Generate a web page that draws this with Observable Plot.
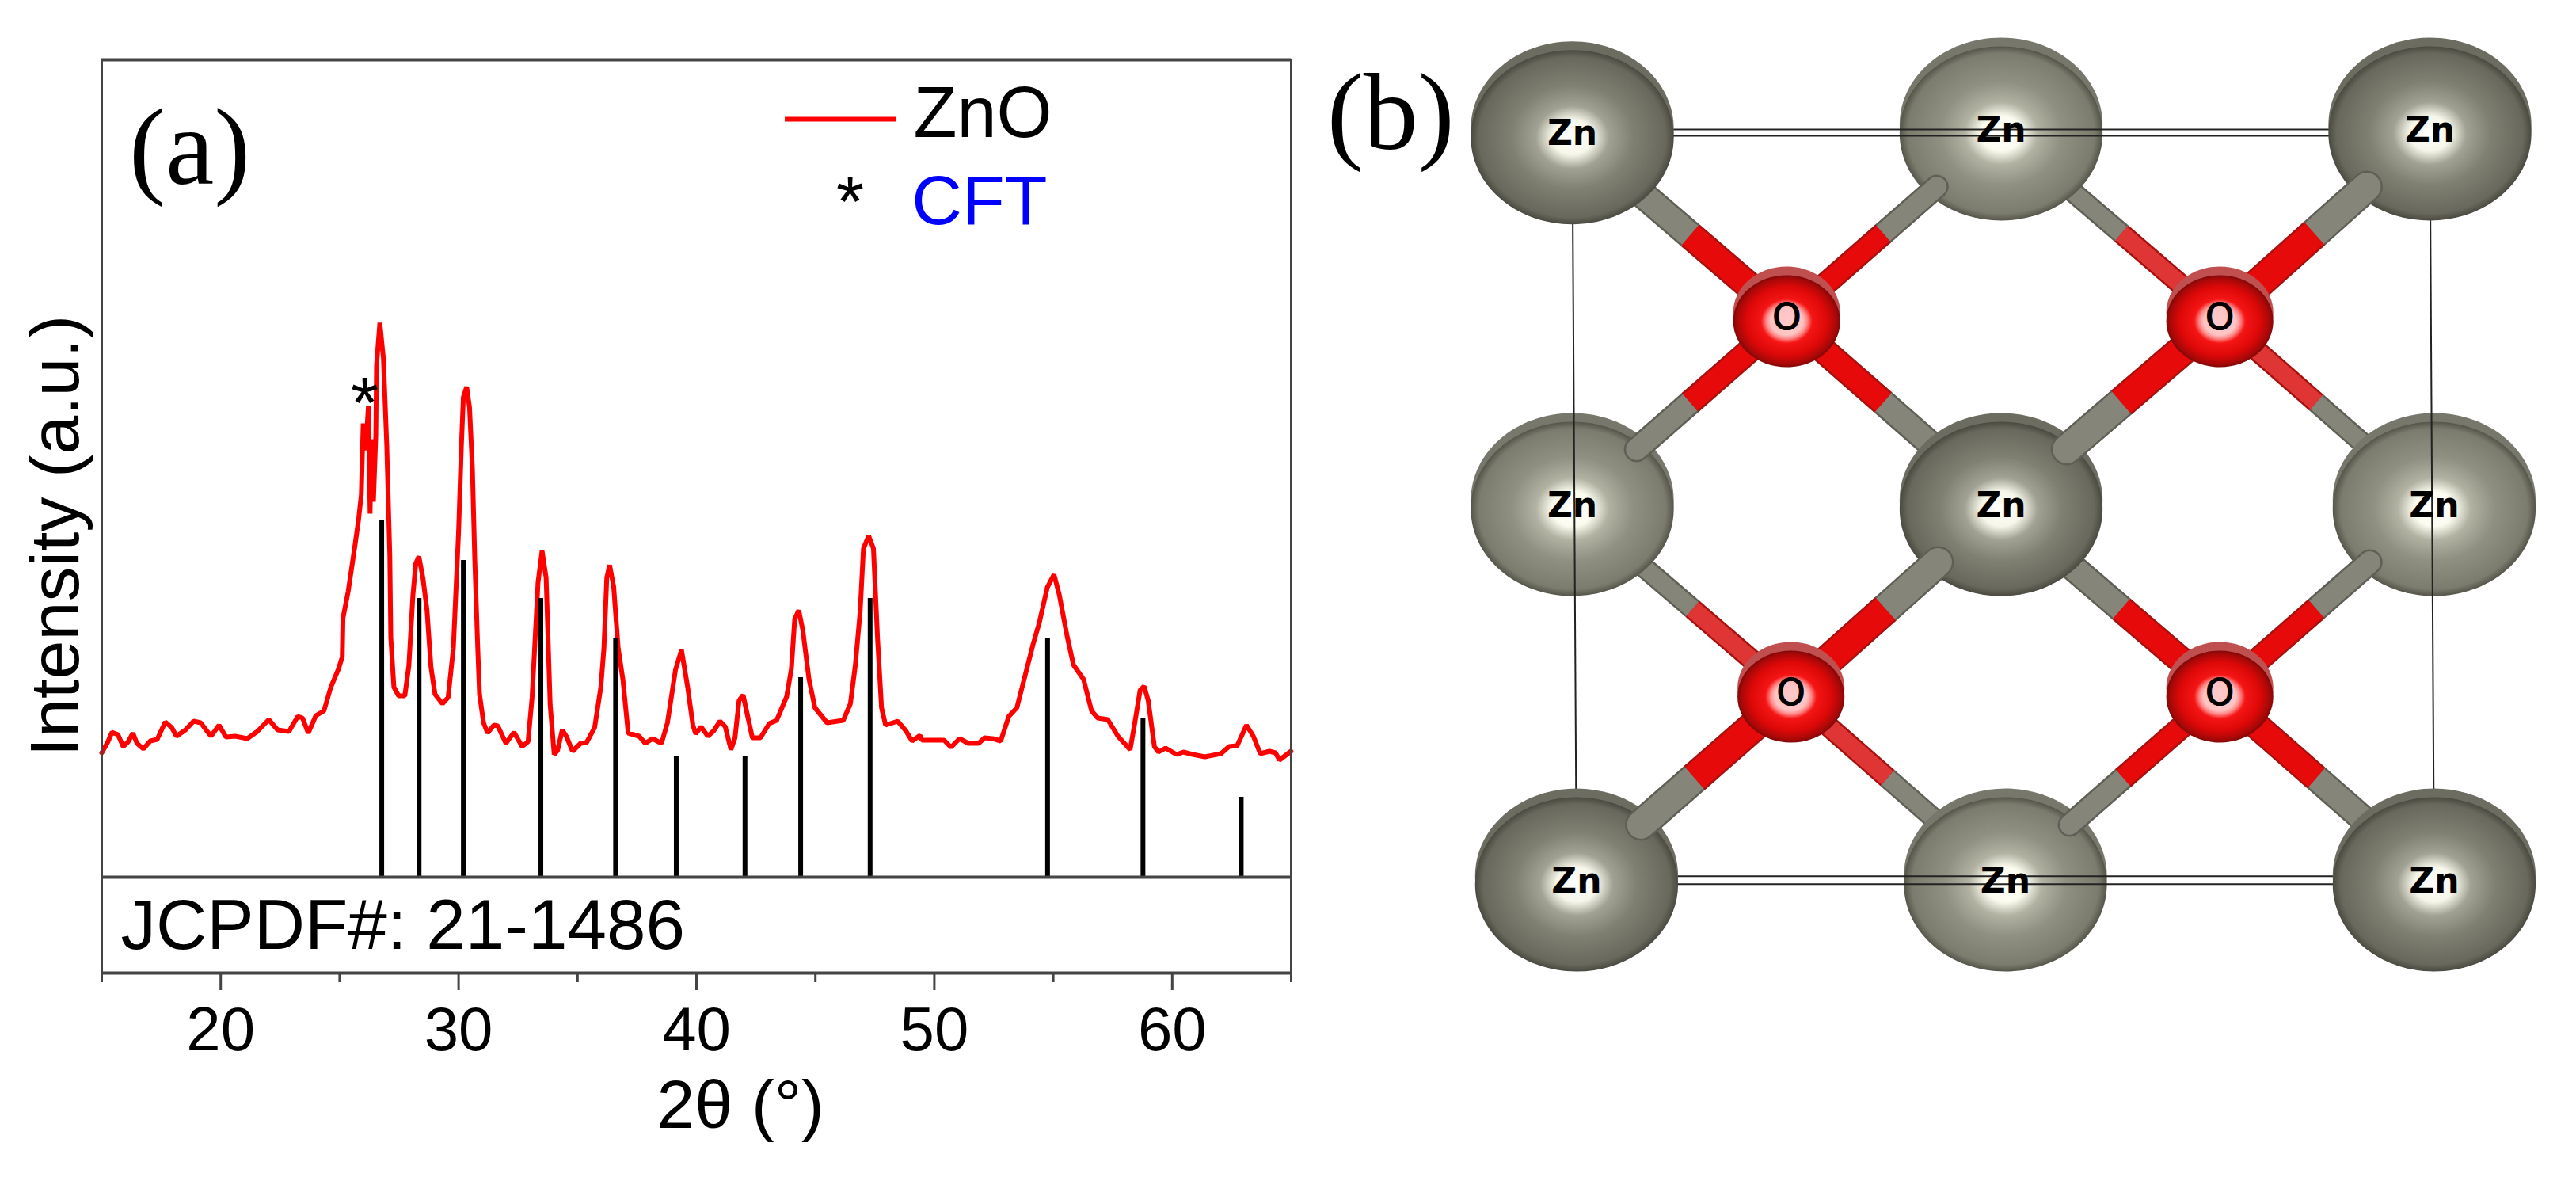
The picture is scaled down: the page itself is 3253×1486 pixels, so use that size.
<!DOCTYPE html>
<html><head><meta charset="utf-8">
<script src="https://cdn.jsdelivr.net/npm/d3@7"></script>
<script src="https://cdn.jsdelivr.net/npm/@observablehq/plot@0.6"></script>
<style>html,body{margin:0;background:#fff}#wrap{display:flex;width:3253px;height:1486px}svg{flex:none}</style>
</head><body><div id="wrap"></div>
<script>
const two_theta = [15.00,15.26,15.43,15.68,15.90,16.11,16.31,16.48,16.75,17.04,17.33,17.67,17.94,18.14,18.52,18.86,19.16,19.59,19.93,20.22,20.61,21.12,21.54,22.02,22.39,22.87,23.24,23.44,23.68,24.00,24.34,24.63,24.94,25.11,25.14,25.36,25.62,25.79,25.91,25.99,26.09,26.21,26.28,26.33,26.42,26.52,26.55,26.69,26.84,26.98,27.11,27.15,27.28,27.48,27.74,27.91,28.08,28.20,28.33,28.50,28.67,28.84,29.01,29.32,29.56,29.78,30.00,30.12,30.20,30.34,30.46,30.58,30.68,30.80,30.88,31.05,31.22,31.48,31.65,31.99,32.33,32.67,32.92,33.09,33.34,33.51,33.68,33.85,34.02,34.16,34.36,34.53,34.79,35.13,35.38,35.72,35.98,36.11,36.23,36.35,36.52,36.71,36.91,37.13,37.59,37.85,38.15,38.53,38.78,39.12,39.37,39.63,39.85,39.97,40.19,40.48,40.73,40.99,41.21,41.45,41.62,41.79,41.96,42.14,42.35,42.69,43.06,43.37,43.79,43.99,44.13,44.30,44.47,44.73,44.98,45.49,46.17,46.47,46.68,46.88,47.02,47.24,47.44,47.61,47.78,47.95,48.46,48.80,49.06,49.40,49.48,50.41,50.70,51.06,51.43,51.86,52.11,52.45,52.79,53.13,53.47,53.81,54.15,54.41,54.75,55.03,55.25,55.59,55.85,56.27,56.61,56.87,57.29,57.72,58.23,58.40,58.65,58.82,58.99,59.25,59.42,59.72,60.18,60.47,60.86,61.37,62.05,62.39,62.73,63.12,63.41,63.70,64.09,64.34,64.51,64.99];
const intensity = [15.7,17.1,18.3,18.0,16.5,17.1,18.2,16.9,16.2,17.2,17.4,19.6,18.9,17.8,18.6,19.7,19.5,17.8,19.2,17.7,17.8,17.5,18.4,19.9,18.6,18.4,20.3,20.1,18.2,20.4,21.0,24.0,26.2,27.8,32.7,36.1,41.4,45.0,48.3,57.3,53.9,59.5,45.9,55.3,47.4,55.7,64.6,70.0,65.5,54.6,40.5,30.3,24.0,22.9,22.9,26.7,35.6,39.6,40.5,37.8,33.8,26.5,23.1,21.9,22.7,28.9,43.6,54.6,60.6,61.9,59.3,51.7,40.1,29.4,23.1,19.5,18.2,19.2,19.1,16.9,18.3,16.5,17.1,22.7,37.2,41.2,37.8,21.8,15.5,16.0,18.6,17.8,15.9,16.9,17.0,18.9,24.0,28.9,37.8,39.4,36.7,28.9,24.9,18.2,17.8,16.9,17.5,16.9,19.5,26.2,28.7,24.0,19.2,18.1,19.0,17.8,18.5,19.7,19.0,16.1,17.6,22.3,23.0,20.5,17.6,17.6,19.4,19.8,22.8,26.3,32.6,33.7,31.2,25.0,21.4,19.5,19.8,21.9,26.8,33.5,41.5,43.1,41.5,30.3,21.4,19.2,19.7,18.5,17.2,17.9,17.3,17.3,16.4,17.5,16.9,16.9,17.6,17.5,17.2,20.3,21.4,25.4,29.4,32.1,36.6,38.2,35.7,30.3,26.8,25.0,21.0,20.1,19.9,17.8,16.1,19.0,23.6,24.1,22.3,16.5,15.8,16.3,15.5,15.8,15.5,15.2,15.6,16.5,16.6,19.2,17.8,15.6,15.9,15.7,14.8,15.9];
const stick_positions = [26.77,28.34,30.20,33.46,36.60,39.15,42.04,44.38,47.30,54.76,58.77,62.90];
const stick_heights = [45,35.2,40,35.2,30.2,15.2,15.2,25.2,35.2,30.1,20.1,10.1];
const major_ticks = [20,30,40,50,60];
const minor_ticks = [15,25,35,45,55,65];

// panel (b): fractional positions
const zn_light = [[1,2,"Zn"],[0,1,"Zn"],[2.01,1,"Zn"],[1.01,0,"Zn"]];
const zn_dark_inner = [[1,1,"Zn"]];
const zn_corners = [[0,1.99,"Zn"],[2,2,"Zn"],[0.01,0,"Zn"],[2.01,0,"Zn"]];
const oxygen = [[0.50,1.50,"O"],[1.51,1.50,"O"],[0.51,0.50,"O"],[1.51,0.50,"O"]];
// [O index, Zn x, Zn y, bond width]
const bonds_back = [[0,0,1.99,36],[0,1,1,34],[1,1,2,27],[1,2.01,1,27],[2,0,1,27],[2,1.01,0,27],[3,1,1,35],[3,2.01,0,35]];
const bonds_front = [[0,1,2,30],[0,0,1,32],[1,2,2,40],[1,1,1,40],[2,1,1,40],[2,0.01,0,40],[3,2.01,1,32],[3,1.01,0,30]];
const cell_edges = [[0,1.99,0.01,0],[2,2,2.01,0],[0,2.002,2,2.002],[0,1.985,2,1.985],[0.01,0.013,2.01,0.013],[0.01,-0.008,2.01,-0.008]];

const dark = "#444";
const sans = "Liberation Sans";
const chartA = Plot.plot({
  width:1650, height:1486, marginLeft:128, marginRight:20, marginTop:75, marginBottom:258,
  style:{fontFamily:sans, background:"#fff", color:"#000"},
  x:{domain:[15,65], label:null}, y:{domain:[-12.1,103.2], axis:null, label:null},
  marks:[
    Plot.lineY(intensity,{x:two_theta, stroke:"#f00", strokeWidth:6, strokeLinejoin:"miter"}),
    Plot.ruleX(stick_positions,{y1:0, y2:stick_heights, stroke:"#000", strokeWidth:6}),
    Plot.ruleY([103.2,0,-12.1],{stroke:dark, strokeWidth:4}),
    Plot.ruleX([15,65],{stroke:dark, strokeWidth:3}),
    Plot.axisX({ticks:major_ticks, tickSize:22, tickPadding:20, fontSize:78, strokeWidth:3, stroke:dark, label:null, fill:"#000"}),
    Plot.axisX({ticks:minor_ticks, tickSize:12, text:null, strokeWidth:3, stroke:dark, label:null}),
    Plot.text(["2θ (°)"],{x:[41.85], y:[-31.6], fontSize:86, lineAnchor:"bottom"}),
    Plot.text(["Intensity (a.u.)"],{x:[14.03], y:[43.1], fontSize:88, rotate:-90, lineAnchor:"bottom"}),
    Plot.text(["JCPDF#: 21-1486"],{x:[15.8], y:[-9], fontSize:89, textAnchor:"start", lineAnchor:"bottom"}),
    Plot.text(["(a)"],{x:[16.15], y:[87.6], fontSize:138, fontFamily:"Liberation Serif", textAnchor:"start", lineAnchor:"bottom"}),
    Plot.ruleY([95.7],{x1:43.73, x2:48.42, stroke:"#f00", strokeWidth:6}),
    Plot.text(["ZnO"],{x:[49.12], y:[93.5], fontSize:90, textAnchor:"start", lineAnchor:"bottom"}),
    Plot.text(["CFT"],{x:[49.05], y:[82.5], fontSize:88, fill:"#00f", textAnchor:"start", lineAnchor:"bottom"}),
    Plot.text(["*"],{x:[46.46], y:[82.2], fontSize:90, lineAnchor:"bottom"}),
    Plot.text(["*"],{x:[26.05], y:[56.8], fontSize:90, lineAnchor:"bottom"})
  ]
});

const kappa = 0.5523, squash = 1.165;
const ellipse = {draw(c,size){
  const ry = Math.sqrt(size/Math.PI), rx = ry*squash;
  c.moveTo(rx,0);
  c.bezierCurveTo(rx,kappa*ry,kappa*rx,ry,0,ry);
  c.bezierCurveTo(-kappa*rx,ry,-rx,kappa*ry,-rx,0);
  c.bezierCurveTo(-rx,-kappa*ry,-kappa*rx,-ry,0,-ry);
  c.bezierCurveTo(kappa*rx,-ry,rx,-kappa*ry,rx,0);
  c.closePath();
}};
const redShare = 0.45;
const bondParts = (list,zinc) => list.map(([o,zx,zy,w])=>{
  const [ox,oy]=oxygen[o];
  return {ox,oy,zx:ox+(zx-ox)*zinc,zy:oy+(zy-oy)*zinc,mx:ox+(zx-ox)*redShare,my:oy+(zy-oy)*redShare,w};
});
const backParts = bondParts(bonds_back,1), frontParts = bondParts(bonds_front,0.70);
const bondMarks = (parts,cap) => [
  Plot.link(parts,{x1:"mx",y1:"my",x2:"zx",y2:"zy",stroke:"#5f5f55",strokeWidth:d=>d.w,strokeLinecap:cap}),
  Plot.link(parts,{x1:"mx",y1:"my",x2:"zx",y2:"zy",stroke:"#85857a",strokeWidth:d=>d.w-5,strokeLinecap:cap}),
  Plot.link(parts,{x1:"ox",y1:"oy",x2:"mx",y2:"my",stroke:"#a81010",strokeWidth:d=>d.w,strokeLinecap:"butt"}),
  Plot.link(parts,{x1:"ox",y1:"oy",x2:"mx",y2:"my",stroke:d=>d.w<28?"#e03535":"#e60a0a",strokeWidth:d=>d.w-5,strokeLinecap:"butt"})
];
const atom = (list,fill,r,rim) => [
  Plot.dot(list,{x:d=>d[0],y:d=>d[1],r,symbol:ellipse,fill:rim,dy:-7}),
  Plot.dot(list,{x:d=>d[0],y:d=>d[1],r,symbol:ellipse,fill,dy:4})
];
const chartB = Plot.plot({
  width:1603, height:1486, marginLeft:335, marginRight:185, marginTop:164, marginBottom:374,
  style:{fontFamily:sans, background:"#fff"},
  x:{domain:[0,2], axis:null}, y:{domain:[0,2], axis:null},
  marks:[
    bondMarks(backParts,"butt"),
    atom(zn_light,"url(#znLight)",110,"#77776c"),
    atom(zn_dark_inner,"url(#znDark)",110,"#6c6c61"),
    Plot.link(cell_edges,{x1:d=>d[0],y1:d=>d[1],x2:d=>d[2],y2:d=>d[3],stroke:"#222",strokeWidth:2}),
    atom(zn_corners,"url(#znDark)",110,"#6c6c61"),
    bondMarks(frontParts,"round"),
    atom(oxygen,"url(#oxy)",58,"#c05050"),
    Plot.text([...zn_light,...zn_dark_inner,...zn_corners],{x:d=>d[0],y:d=>d[1],text:d=>d[2],fontSize:44,fontWeight:"bold",fontFamily:"DejaVu Sans",fill:"#000"}),
    Plot.text(oxygen,{x:d=>d[0],y:d=>d[1],text:d=>d[2],fontSize:46,fontFamily:"DejaVu Sans",fill:"#000",stroke:"#000",strokeWidth:1.2}),
    Plot.text(["(b)"],{x:[-0.572], y:[1.95], fontSize:138, fontFamily:"Liberation Serif", textAnchor:"start", lineAnchor:"bottom"})
  ]
});
chartB.insertAdjacentHTML("afterbegin",`<defs>
<radialGradient id="znLight"><stop offset="0" stop-color="#fff"/><stop offset=".2" stop-color="#fbfbef"/><stop offset=".36" stop-color="#b2b2a3"/><stop offset=".6" stop-color="#8f8f82"/><stop offset=".92" stop-color="#7b7b6e"/><stop offset="1" stop-color="#55554a"/></radialGradient>
<radialGradient id="znDark"><stop offset="0" stop-color="#fff"/><stop offset=".2" stop-color="#f6f6ea"/><stop offset=".36" stop-color="#a2a294"/><stop offset=".6" stop-color="#7f7f72"/><stop offset=".92" stop-color="#68685c"/><stop offset="1" stop-color="#4a4a41"/></radialGradient>
<radialGradient id="oxy"><stop offset="0" stop-color="#ffc8c8"/><stop offset=".3" stop-color="#ffc4c4"/><stop offset=".38" stop-color="#ff8a8a"/><stop offset=".48" stop-color="#f51515"/><stop offset=".75" stop-color="#dd0808"/><stop offset=".93" stop-color="#a80808"/><stop offset="1" stop-color="#800808"/></radialGradient>
</defs>`);
document.getElementById("wrap").append(chartA, chartB);
</script></body></html>
